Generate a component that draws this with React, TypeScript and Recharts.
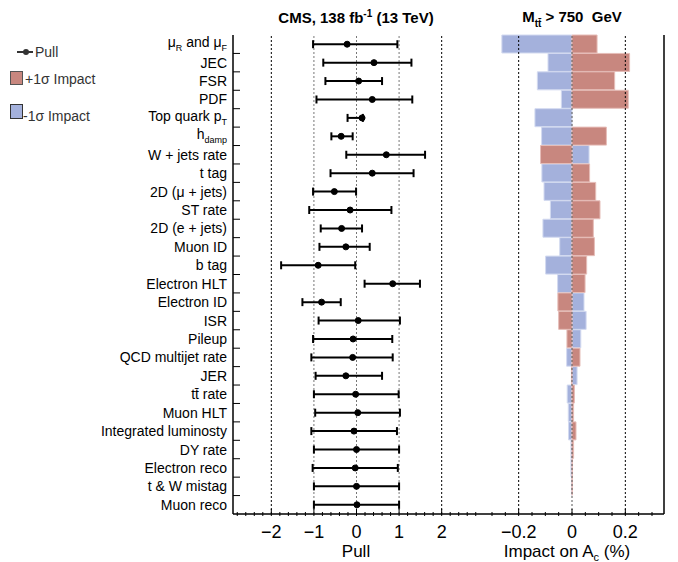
import React from 'react';
import {
  ComposedChart,
  BarChart,
  Bar,
  Line,
  ErrorBar,
  XAxis,
  YAxis,
  ReferenceLine,
} from 'recharts';

// nuisance parameters, top to bottom
const names = [
  'μ_{R} and μ_{F}',
  'JEC',
  'FSR',
  'PDF',
  'Top quark p_{T}',
  'h_{damp}',
  'W + jets rate',
  't tag',
  '2D (μ + jets)',
  'ST rate',
  '2D (e + jets)',
  'Muon ID',
  'b tag',
  'Electron HLT',
  'Electron ID',
  'ISR',
  'Pileup',
  'QCD multijet rate',
  'JER',
  'tt̄ rate',
  'Muon HLT',
  'Integrated luminosty',
  'DY rate',
  'Electron reco',
  't & W mistag',
  'Muon reco',
];

const pulls = [
  -0.22, 0.41, 0.05, 0.37, 0.13, -0.36, 0.70, 0.37, -0.52, -0.15, -0.35, -0.25, -0.90,
  0.85, -0.82, 0.04, -0.08, -0.09, -0.25, -0.02, 0.03, -0.06, 0.0, -0.03, 0.0, 0.01,
];
const pullLow = [
  -1.02, -0.78, -0.73, -0.94, -0.21, -0.59, -0.24, -0.61, -1.02, -1.11, -0.84, -0.87, -1.77,
  0.19, -1.27, -0.89, -1.02, -1.06, -0.96, -1.0, -0.97, -1.06, -1.0, -1.03, -1.0, -1.0,
];
const pullHigh = [
  0.96, 1.29, 0.60, 1.31, 0.15, -0.09, 1.61, 1.34, -0.01, 0.82, 0.13, 0.31, -0.03,
  1.49, -0.37, 1.02, 0.84, 0.85, 0.60, 0.99, 1.02, 0.95, 1.0, 0.97, 1.0, 1.0,
];

// impact on A_c (%) for +1 sigma and -1 sigma shifts
const impactUp = [
  0.094, 0.216, 0.160, 0.211, 0.0, 0.129, -0.118, 0.066, 0.089, 0.105, 0.080, 0.084, 0.055,
  0.049, -0.053, -0.050, -0.019, 0.030, -0.002, 0.009, 0.006, 0.015, 0.006, 0.002, 0.001, 0.0,
];
const impactDown = [
  -0.263, -0.090, -0.130, -0.040, -0.139, -0.114, 0.064, -0.113, -0.105, -0.081, -0.109, -0.046, -0.099,
  -0.054, 0.045, 0.053, 0.033, -0.020, 0.019, -0.018, -0.014, -0.013, -0.004, -0.004, -0.002, 0.0,
];

const pullMajor = [-2, -1, 0, 1, 2];
const impactMajor = [-0.2, 0, 0.2];

const PULL_DOMAIN: [number, number] = [-2.9, 2.9];
const IMPACT_DOMAIN: [number, number] = [-0.345, 0.345];

const RED = '#c8877f';
const BLUE = '#a4b1dc';

function range(a: number, b: number, step: number) {
  const out: number[] = [];
  for (let v = a; v <= b + 1e-9; v += step) out.push(Math.round(v * 1000) / 1000);
  return out;
}
const pullTicks = range(-2.8, 2.8, 0.2);
const impactTicks = range(-0.3, 0.3, 0.05);

const pullRows = names.map((name, i) => ({
  name,
  pull: pulls[i],
  err: [pulls[i] - pullLow[i], pullHigh[i] - pulls[i]],
}));

const impactRows = names.map((name, i) => ({
  name,
  plus: impactUp[i],
  minus: impactDown[i],
}));

const fmt = (v: number) => (v < 0 ? '\u2212' + String(-v) : String(v));

function isMajor(v: number, majors: number[]) {
  return majors.some((m) => Math.abs(m - v) < 1e-6);
}

const BottomTick = (majors: number[]) => (props: any) => {
  const { x, y, payload } = props;
  const major = isMajor(payload.value, majors);
  return (
    <g>
      <line x1={x} x2={x} y1={y} y2={y - (major ? 7 : 4)} stroke="#000" />
      {major && (
        <text x={x} y={y + 22} textAnchor="middle" fontSize={18} fill="#000">
          {fmt(payload.value)}
        </text>
      )}
    </g>
  );
};

const TopTick = (majors: number[]) => (props: any) => {
  const { x, y, payload } = props;
  const major = isMajor(payload.value, majors);
  return <line x1={x} x2={x} y1={y} y2={y + (major ? 7 : 4)} stroke="#000" />;
};

const NameTick = (props: any) => {
  const { x, y, payload, index } = props;
  const parts = String(payload.value).split(/_\{([^}]*)\}/);
  const half = payload.offset ?? 479 / names.length / 2;
  const base = y + 5 - (parts.length > 1 ? 2 : 0);
  return (
    <g>
      <text x={x} y={base} textAnchor="end" fontSize={14} fill="#000">
        {parts.map((p, i) =>
          i % 2 === 1 ? (
            <tspan key={i} fontSize={9} dy={4}>
              {p}
            </tspan>
          ) : (
            <tspan key={i} dy={i === 0 ? 0 : -4}>
              {p}
            </tspan>
          )
        )}
      </text>
      {index < names.length - 1 && (
        <line x1={x + 6} x2={x + 13} y1={y + half} y2={y + half} stroke="#000" />
      )}
    </g>
  );
};

const PullPanel = () => (
  <ComposedChart
    layout="vertical"
    width={482}
    height={562}
    data={pullRows}
    margin={{ top: 35, right: 2, bottom: 0, left: 0 }}
  >
    <XAxis
      type="number"
      domain={PULL_DOMAIN}
      ticks={pullTicks}
      interval={0}
      allowDataOverflow
      tickLine={false}
      tickSize={0}
      tick={BottomTick(pullMajor)}
      height={48}
      axisLine={{ stroke: '#000', strokeWidth: 1.5 }}
    />
    <XAxis
      xAxisId="top"
      orientation="top"
      type="number"
      domain={PULL_DOMAIN}
      ticks={pullTicks}
      interval={0}
      allowDataOverflow
      tickLine={false}
      tickSize={0}
      tick={TopTick(pullMajor)}
      height={0}
      axisLine={{ stroke: '#000', strokeWidth: 1.5 }}
    />
    <YAxis
      type="category"
      dataKey="name"
      scale="band"
      width={233}
      interval={0}
      tickLine={false}
      tickSize={0}
      tickMargin={6}
      tick={NameTick}
      axisLine={{ stroke: '#000', strokeWidth: 1.5 }}
    />
    <ReferenceLine x={-2} stroke="#000" strokeDasharray="2 2" />
    <ReferenceLine x={2} stroke="#000" strokeDasharray="2 2" />
    <ReferenceLine x={-1} stroke="#777" strokeDasharray="2 2" />
    <ReferenceLine x={0} stroke="#777" strokeDasharray="2 2" />
    <ReferenceLine x={1} stroke="#777" strokeDasharray="2 2" />
    <Line
      dataKey="pull"
      stroke="none"
      dot={{ r: 3, fill: '#000', stroke: '#000', strokeWidth: 1 }}
      activeDot={false}
      isAnimationActive={false}
    >
      <ErrorBar dataKey="err" direction="x" width={4} stroke="#000" strokeWidth={2} />
    </Line>
  </ComposedChart>
);

const ImpactPanel = () => (
  <BarChart
    layout="vertical"
    width={208}
    height={562}
    data={impactRows}
    stackOffset="sign"
    barCategoryGap={0}
    margin={{ top: 35, right: 14, bottom: 0, left: 10 }}
  >
    <XAxis
      type="number"
      domain={IMPACT_DOMAIN}
      ticks={impactTicks}
      interval={0}
      allowDataOverflow
      tickLine={false}
      tickSize={0}
      tick={BottomTick(impactMajor)}
      height={48}
      axisLine={{ stroke: '#000', strokeWidth: 1.5 }}
    />
    <XAxis
      xAxisId="top"
      orientation="top"
      type="number"
      domain={IMPACT_DOMAIN}
      ticks={impactTicks}
      interval={0}
      allowDataOverflow
      tickLine={false}
      tickSize={0}
      tick={TopTick(impactMajor)}
      height={0}
      axisLine={{ stroke: '#000', strokeWidth: 1.5 }}
    />
    <YAxis
      type="category"
      dataKey="name"
      width={0}
      tick={false}
      tickLine={false}
      axisLine={{ stroke: '#000', strokeWidth: 3 }}
    />
    <ReferenceLine x={-0.2} stroke="#000" strokeDasharray="2 2" />
    <ReferenceLine x={0.2} stroke="#000" strokeDasharray="2 2" />
    <Bar dataKey="minus" stackId="s" fill={BLUE} stroke="#d3daf0" strokeWidth={1} isAnimationActive={false} />
    <Bar dataKey="plus" stackId="s" fill={RED} stroke="#e6bdb8" strokeWidth={1} isAnimationActive={false} />
    <ReferenceLine x={0} stroke="#555" strokeDasharray="2 2" />
    <ReferenceLine x={IMPACT_DOMAIN[1]} stroke="#000" strokeWidth={1.5} />
  </BarChart>
);

const Overlay = () => (
  <svg width={678} height={562} style={{ position: 'absolute', left: 0, top: 0, pointerEvents: 'none' }}>
    <text x={356} y={23} textAnchor="middle" fontSize={15} fontWeight="bold">
      CMS, 138 fb
      <tspan dy={-6} fontSize={10}>
        -1
      </tspan>
      <tspan dy={6}> (13 TeV)</tspan>
    </text>
    <text x={572} y={22} textAnchor="middle" fontSize={15} fontWeight="bold" style={{ whiteSpace: 'pre' }}>
      M
      <tspan dy={5} fontSize={10}>
        tt̄
      </tspan>
      <tspan dy={-5}>{' > 750  GeV'}</tspan>
    </text>
    <text x={356} y={557} textAnchor="middle" fontSize={17}>
      Pull
    </text>
    <text x={567} y={557} textAnchor="middle" fontSize={17}>
      Impact on A
      <tspan dy={4} fontSize={11}>
        c
      </tspan>
      <tspan dy={-4}> (%)</tspan>
    </text>
    {/* legend */}
    <line x1={17} x2={33} y1={52} y2={52} stroke="#333" strokeWidth={2} />
    <circle cx={26} cy={52} r={3} fill="#333" />
    <text x={35} y={57} fontSize={14} fill="#333">
      Pull
    </text>
    <rect x={10.5} y={71.5} width={12} height={13} fill={RED} stroke="#555" />
    <text x={25} y={84} fontSize={14} fill="#333">
      +1σ Impact
    </text>
    <rect x={10.5} y={104.5} width={12} height={14} fill={BLUE} stroke="#333" />
    <text x={23} y={121} fontSize={14} fill="#333">
      -1σ Impact
    </text>
  </svg>
);

export default function App() {
  return (
    <div
      style={{
        position: 'absolute',
        left: 0,
        top: 0,
        width: 678,
        height: 562,
        background: '#fff',
        fontFamily: '"Liberation Sans", Arial, sans-serif',
      }}
    >
      <div style={{ position: 'absolute', left: 0, top: 0 }}>
        <PullPanel />
      </div>
      <div style={{ position: 'absolute', left: 470, top: 0 }}>
        <ImpactPanel />
      </div>
      <Overlay />
    </div>
  );
}
